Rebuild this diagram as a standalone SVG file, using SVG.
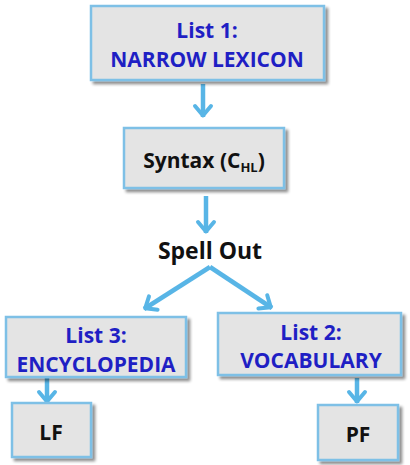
<svg xmlns="http://www.w3.org/2000/svg" width="410" height="465" viewBox="0 0 410 465">
<defs>
<filter id="sh" x="-10%" y="-10%" width="130%" height="130%">
<feGaussianBlur in="SourceAlpha" stdDeviation="1.5"/>
<feOffset dx="2.5" dy="2.5" result="b"/>
<feComponentTransfer><feFuncA type="linear" slope="0.45"/></feComponentTransfer>
<feMerge><feMergeNode/><feMergeNode in="SourceGraphic"/></feMerge>
</filter>
<marker id="ah" viewBox="-14 -11 16 22" refX="0" refY="0" markerWidth="16" markerHeight="22" orient="auto" markerUnits="userSpaceOnUse">
<path d="M-11,-8 L-1.5,0 L-11,8" fill="none" stroke="#58b5e6" stroke-width="4" stroke-linecap="round" stroke-linejoin="round"/>
</marker>
</defs>
<style>
.box{fill:#e4e4e4;stroke:#7ec0e6;stroke-width:2.5;filter:url(#sh)}
.t{font-family:"Open Sans","Liberation Sans",sans-serif;font-weight:bold;text-anchor:middle}
.blue{fill:#1f1fc4;font-size:21px}
.blk{fill:#111;font-size:21px}
.c{fill:none;stroke:#58b5e6;stroke-width:4.5;marker-end:url(#ah)}
</style>
<g id="connectors">
<line class="c" x1="203" y1="84" x2="203" y2="117"/>
<line class="c" x1="206" y1="196" x2="206" y2="233"/>
<line class="c" x1="210" y1="267" x2="144" y2="309"/>
<line class="c" x1="210" y1="267" x2="272" y2="308"/>
<line class="c" x1="47" y1="378" x2="47" y2="403"/>
<line class="c" x1="357" y1="378" x2="357" y2="403"/>
</g>
<g id="list1">
<rect class="box" x="91" y="6" width="233" height="74"/>
<text class="t blue" x="207" y="38">List 1:</text>
<text class="t blue" x="207" y="67">NARROW LEXICON</text>
</g>
<g id="syntax">
<rect class="box" x="124" y="128" width="160" height="60"/>
<text class="t blk" x="204" y="168">Syntax (C<tspan font-size="13" dy="4">HL</tspan><tspan dy="-4">)</tspan></text>
</g>
<g id="spellout">
<text class="t" x="210" y="259" font-size="23" fill="#111">Spell Out</text>
</g>
<g id="list3">
<rect class="box" x="6" y="317" width="180" height="60"/>
<text class="t blue" x="96" y="343">List 3:</text>
<text class="t blue" x="96" y="372">ENCYCLOPEDIA</text>
</g>
<g id="list2">
<rect class="box" x="218" y="313" width="183" height="62"/>
<text class="t blue" x="311" y="340">List 2:</text>
<text class="t blue" x="311" y="368">VOCABULARY</text>
</g>
<g id="lf">
<rect class="box" x="12" y="403" width="79" height="54"/>
<text class="t blk" x="51" y="440" font-size="20">LF</text>
</g>
<g id="pf">
<rect class="box" x="318" y="405" width="80" height="55"/>
<text class="t blk" x="358" y="442" font-size="20">PF</text>
</g>
</svg>
